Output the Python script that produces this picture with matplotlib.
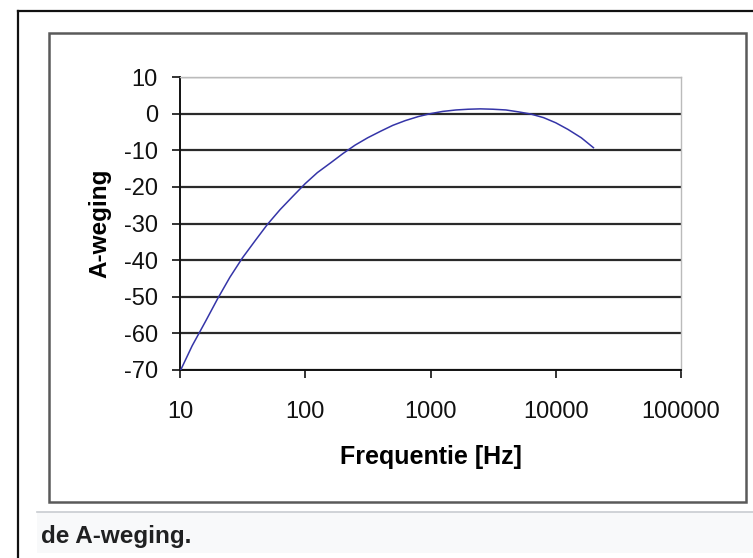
import matplotlib
matplotlib.use("Agg")
import matplotlib.pyplot as plt
from matplotlib.patches import Rectangle
from matplotlib.lines import Line2D

plt.rcParams['font.family'] = ['Liberation Sans', 'DejaVu Sans']

freq = [10, 12.5, 16, 20, 25, 31.5, 40, 50, 63, 80, 100, 125, 160, 200, 250,
        315, 400, 500, 630, 800, 1000, 1250, 1600, 2000, 2500, 3150, 4000,
        5000, 6300, 8000, 10000, 12500, 16000, 20000]
a_weight = [-70.4, -63.4, -56.7, -50.5, -44.7, -39.4, -34.6, -30.2, -26.2,
            -22.5, -19.1, -16.1, -13.4, -10.9, -8.6, -6.6, -4.8, -3.2, -1.9,
            -0.8, 0.0, 0.6, 1.0, 1.2, 1.3, 1.2, 1.0, 0.5, -0.1, -1.1, -2.5,
            -4.3, -6.6, -9.3]
x_ticks = [10, 100, 1000, 10000, 100000]
x_labels = ["10", "100", "1000", "10000", "100000"]
y_ticks = [-70, -60, -50, -40, -30, -20, -10, 0, 10]

W, H = 753, 558
fig = plt.figure(figsize=(W / 100, H / 100), dpi=100)

def fx(px):
    return px / W

def fy(py):
    return 1 - py / H

# outer thumbnail border (left, top)
fig.add_artist(Line2D([fx(18), fx(18)], [fy(11), fy(560)], color='#111111', lw=1.6))
fig.add_artist(Line2D([fx(18), fx(760)], [fy(11), fy(11)], color='#111111', lw=1.6))

# inner chart border
fig.add_artist(Rectangle((fx(49), fy(502)), fx(746) - fx(49), fy(33) - fy(502),
                         fill=False, edgecolor='#5a5a5a', lw=1.8))

# caption bar
fig.add_artist(Rectangle((fx(37), fy(553)), fx(760) - fx(37), fy(512) - fy(553),
                         facecolor='#f8f9fa', edgecolor='none'))
fig.add_artist(Line2D([fx(37), fx(760)], [fy(512), fy(512)], color='#c8ccd1', lw=1.2))
fig.text(fx(41), fy(537), "de A-weging.", fontsize=17.5, fontweight='bold',
         color='#202122', va='center', ha='left')

ax = fig.add_axes([fx(180), fy(370), fx(681) - fx(180), fy(77) - fy(370)])
ax.set_xscale('log')
ax.set_xlim(10, 100000)
ax.set_ylim(-70, 10)

for y in y_ticks:
    ax.axhline(y, color='#2a2a2a', lw=1.6, zorder=1)

ax.plot(freq, a_weight, color='#3535a8', lw=1.1, zorder=3)

ax.set_xticks(x_ticks)
ax.set_xticklabels(x_labels)
ax.minorticks_off()
ax.set_yticks(y_ticks)
ax.set_yticklabels([str(v) for v in y_ticks])

for s in ['top', 'right']:
    ax.spines[s].set_color('#bbbbbb')
    ax.spines[s].set_linewidth(1.0)
for s in ['left', 'bottom']:
    ax.spines[s].set_color('#111111')
    ax.spines[s].set_linewidth(1.4)

ax.tick_params(axis='y', direction='out', length=6, width=1.2, colors='#111111',
               labelsize=17, pad=10)
ax.tick_params(axis='x', direction='out', length=6, width=1.2, colors='#111111',
               labelsize=17, pad=16)

ax.set_xlabel("Frequentie [Hz]", fontsize=18, fontweight='bold', labelpad=16)
ax.set_ylabel("A-weging", fontsize=17.5, fontweight='bold', labelpad=9)

fig.savefig("out.png", dpi=100)
